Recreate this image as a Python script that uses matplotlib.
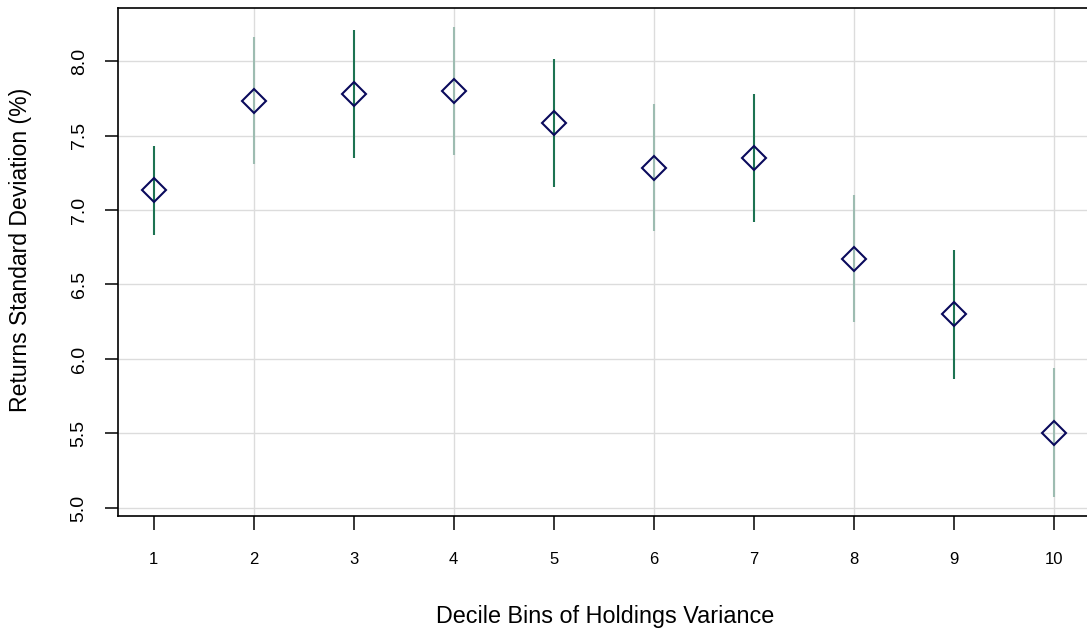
import matplotlib
matplotlib.use("Agg")
import matplotlib.pyplot as plt
import numpy as np

plt.rcParams['font.family'] = ['Liberation Sans', 'DejaVu Sans']

bins = [1, 2, 3, 4, 5, 6, 7, 8, 9, 10]
sd_mean = [7.132, 7.730, 7.777, 7.800, 7.585, 7.284, 7.351, 6.673, 6.299, 5.506]
ci_low = [6.831, 7.306, 7.346, 7.368, 7.154, 6.857, 6.920, 6.246, 5.868, 5.076]
ci_high = [7.433, 8.159, 8.208, 8.228, 8.014, 7.713, 7.780, 7.103, 6.730, 5.938]
y_ticks = [5.0, 5.5, 6.0, 6.5, 7.0, 7.5, 8.0]
x_grid = [2, 4, 6, 8, 10]

green = '#1d7352'
light = '#9dbcb1'
navy = '#0a0a5c'

fig = plt.figure(figsize=(10.87, 6.31), dpi=100)
ax = fig.add_axes([117.5/1087, 1-516/631, (1090-117.5)/1087, (516-8)/631])

ax.set_xlim(0.64, 10.36)
ax.set_ylim(4.946, 8.356)

for y in y_ticks:
    ax.axhline(y, color='#dcdcdc', lw=1.0, zorder=0)
for x in x_grid:
    ax.axvline(x, color='#dcdcdc', lw=1.0, zorder=0)

for i, b in enumerate(bins):
    c = green if b % 2 == 1 else light
    ax.plot([b, b], [ci_low[i], ci_high[i]], color=c, lw=1.5, zorder=2, solid_capstyle='butt')

ax.plot(bins, sd_mean, linestyle='none', marker='D', markersize=11.8,
        markerfacecolor='none', markeredgecolor=navy, markeredgewidth=1.5, zorder=3)

ax.set_xticks(bins)
ax.set_xticklabels([str(b) for b in bins], fontsize=12)
ax.set_yticks(y_ticks)
ax.set_yticklabels([f'{y:.1f}' for y in y_ticks], fontsize=14, rotation=90, va='center')
ax.tick_params(axis='x', length=10, width=1.1, pad=16, direction='out')
ax.tick_params(axis='y', length=9.5, width=1.1, pad=12, direction='out')

for s in ax.spines.values():
    s.set_linewidth(1.2)
    s.set_color('black')

fig.text(605/1087, 1-617/631, 'Decile Bins of Holdings Variance', ha='center', va='center', fontsize=16.8)
fig.text(21/1087, 1-250/631, 'Returns Standard Deviation (%)', ha='center', va='center', fontsize=16.6, rotation=90)

fig.savefig('out.png', dpi=100)
